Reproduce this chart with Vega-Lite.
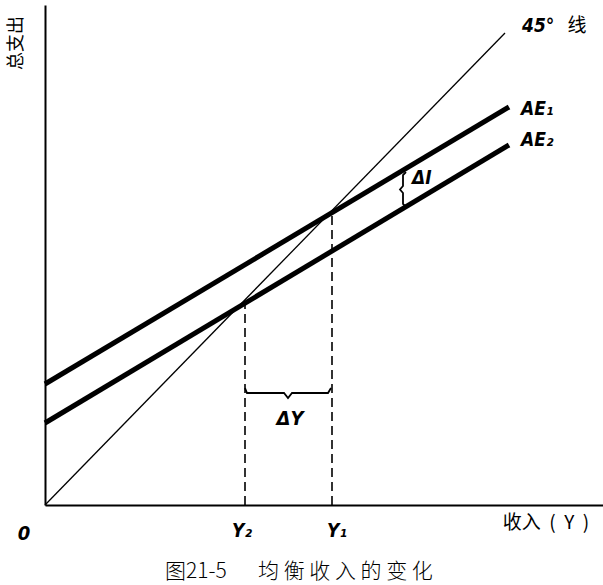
{
  "$schema": "https://vega.github.io/schema/vega-lite/v6.json",
  "width": 558,
  "height": 500,
  "autosize": "none",
  "padding": {"left": 45, "top": 5, "right": 0, "bottom": 80},
  "background": "white",
  "config": {"view": {"stroke": null}},
  "encoding": {
    "x": {"field": "x", "type": "quantitative", "scale": {"domain": [0, 558], "nice": false, "zero": false},
      "axis": {"domain": true, "domainColor": "black", "domainWidth": 2, "ticks": false, "labels": false, "grid": false, "title": null}},
    "y": {"field": "y", "type": "quantitative", "scale": {"domain": [0, 500], "nice": false, "zero": false},
      "axis": {"domain": true, "domainColor": "black", "domainWidth": 2, "ticks": false, "labels": false, "grid": false, "title": null}}
  },
  "layer": [
    {
      "data": {"values": [
        {"s": "45", "i": 0, "x": 0, "y": 0},
        {"s": "45", "i": 1, "x": 460, "y": 472}
      ]},
      "mark": {"type": "line", "color": "black", "strokeWidth": 1.3},
      "encoding": {"detail": {"field": "s"}, "order": {"field": "i"}}
    },
    {
      "data": {"values": [
        {"s": "AE1", "i": 0, "x": 0, "y": 121},
        {"s": "AE1", "i": 1, "x": 464, "y": 398},
        {"s": "AE2", "i": 0, "x": 0, "y": 82},
        {"s": "AE2", "i": 1, "x": 464, "y": 360}
      ]},
      "mark": {"type": "line", "color": "black", "strokeWidth": 5},
      "encoding": {"detail": {"field": "s"}, "order": {"field": "i"}}
    },
    {
      "data": {"values": [
        {"x": 200, "y": 0, "y2": 202},
        {"x": 287, "y": 0, "y2": 293}
      ]},
      "mark": {"type": "rule", "color": "black", "strokeWidth": 1.6, "strokeDash": [9, 5]},
      "encoding": {"y2": {"field": "y2"}}
    },
    {
      "data": {"values": [
        {"b": "dY", "i": 0, "x": 200, "y": 117},
        {"b": "dY", "i": 1, "x": 202, "y": 112},
        {"b": "dY", "i": 2, "x": 239, "y": 112},
        {"b": "dY", "i": 3, "x": 243, "y": 107},
        {"b": "dY", "i": 4, "x": 247, "y": 112},
        {"b": "dY", "i": 5, "x": 283, "y": 112},
        {"b": "dY", "i": 6, "x": 286, "y": 117},
        {"b": "dI", "i": 0, "x": 361, "y": 333},
        {"b": "dI", "i": 1, "x": 358, "y": 330},
        {"b": "dI", "i": 2, "x": 358, "y": 319},
        {"b": "dI", "i": 3, "x": 355, "y": 315.5},
        {"b": "dI", "i": 4, "x": 358, "y": 312},
        {"b": "dI", "i": 5, "x": 358, "y": 301},
        {"b": "dI", "i": 6, "x": 361, "y": 298}
      ]},
      "mark": {"type": "line", "color": "black", "strokeWidth": 1.8},
      "encoding": {"detail": {"field": "b"}, "order": {"field": "i"}}
    },
    {
      "data": {"values": [
        {"t": "45°", "x": 477, "y": 479},
        {"t": "AE₁", "x": 476, "y": 396},
        {"t": "AE₂", "x": 476, "y": 365},
        {"t": "ΔI", "x": 367, "y": 327},
        {"t": "Y₂", "x": 187, "y": -26},
        {"t": "Y₁", "x": 282, "y": -26}
      ]},
      "mark": {"type": "text", "align": "left", "baseline": "middle", "font": "DejaVu Sans Condensed", "fontWeight": "bold", "fontStyle": "italic", "fontSize": 19, "color": "black"},
      "encoding": {"text": {"field": "t"}}
    },
    {
      "data": {"values": [
        {"t": "ΔY", "x": 245, "y": 86},
        {"t": "0", "x": -21, "y": -29}
      ]},
      "mark": {"type": "text", "align": "center", "baseline": "middle", "font": "DejaVu Sans Condensed", "fontWeight": "bold", "fontStyle": "italic", "fontSize": 20, "color": "black"},
      "encoding": {"text": {"field": "t"}}
    },
    {
      "data": {"values": [
        {"t": "线", "x": 532, "y": 479},
        {"t": "收入\u00a0\u00a0(\u00a0\u00a0Y\u00a0\u00a0)", "x": 501, "y": -18}
      ]},
      "mark": {"type": "text", "align": "center", "baseline": "middle", "font": "Noto Sans CJK SC", "fontSize": 19, "color": "black"},
      "encoding": {"text": {"field": "t"}}
    },
    {
      "data": {"values": [
        {"t": "总支出", "x": -28, "y": 462}
      ]},
      "mark": {"type": "text", "align": "center", "baseline": "middle", "angle": 270, "font": "Noto Sans CJK SC", "fontSize": 18, "color": "black"},
      "encoding": {"text": {"field": "t"}}
    },
    {
      "data": {"values": [
        {"t": "图21-5", "x": 120, "y": -67},
        {"t": "均 衡 收 入 的 变 化", "x": 213, "y": -67}
      ]},
      "mark": {"type": "text", "align": "left", "baseline": "middle", "font": "Noto Sans CJK SC", "fontWeight": 300, "fontSize": 21, "color": "black"},
      "encoding": {"text": {"field": "t"}}
    }
  ]
}
